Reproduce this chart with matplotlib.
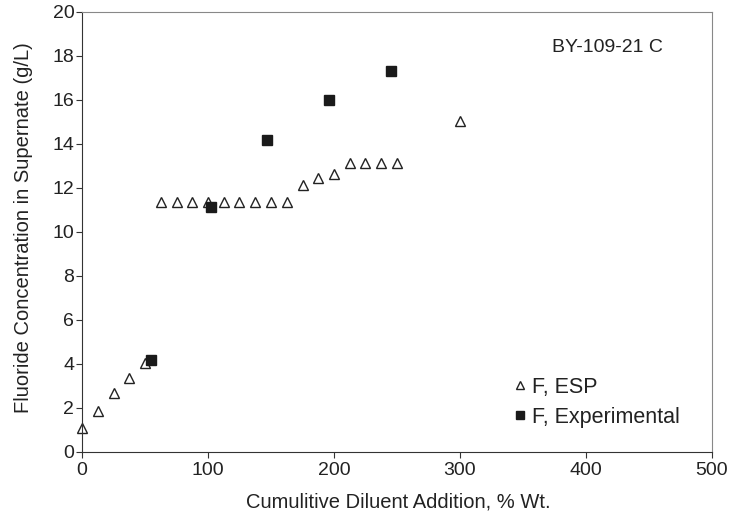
import matplotlib.pyplot as plt

plt.rcParams['font.family'] = ['Liberation Sans', 'DejaVu Sans']

# ESP model results
esp_x = [0, 12.5, 25, 37.5, 50, 62.5, 75, 87.5, 100, 112.5, 125, 137.5, 150, 162.5,
         175, 187.5, 200, 212.5, 225, 237.5, 250, 300]
esp_y = [1.08, 1.86, 2.70, 3.35, 4.03, 11.35, 11.35, 11.35, 11.35, 11.35, 11.35, 11.35,
         11.35, 11.35, 12.14, 12.47, 12.62, 13.12, 13.12, 13.12, 13.12, 15.06]

# experimental results
exp_x = [54.6, 102.7, 146.9, 196.3, 245]
exp_y = [4.2, 11.15, 14.2, 16.0, 17.3]

W, H = 735, 521
fig = plt.figure(figsize=(W / 100, H / 100), dpi=100)
ax = fig.add_axes([82 / W, (H - 452) / H, (712 - 82) / W, (452 - 12) / H])

ax.plot(esp_x, esp_y, linestyle='none', marker='^', markersize=6.8,
        markerfacecolor='white', markeredgecolor='#222222', markeredgewidth=1.0,
        label='F, ESP', clip_on=False)
ax.plot(exp_x, exp_y, linestyle='none', marker='s', markersize=7.3,
        color='#1a1a1a', label='F, Experimental', clip_on=False)

ax.set_xlim(0, 500)
ax.set_ylim(0, 20)
ax.set_xticks(range(0, 501, 100))
ax.set_yticks(range(0, 21, 2))
ax.tick_params(direction='out', length=4, width=0.8, colors='#333333',
               labelcolor='#222222', labelsize=14, pad=1.5)
ax.tick_params(axis='x', pad=3)
ax.spines['left'].set_color('#333333')
ax.spines['bottom'].set_color('#333333')
ax.spines['top'].set_color('#888888')
ax.spines['right'].set_color('#888888')

# axis titles, centred on the plot area
fig.text(398 / W, 1 - 502 / H, 'Cumulitive Diluent Addition, % Wt.', ha='center', va='center',
         fontsize=14.5, color='#222222')
fig.text(24 / W, 1 - 228 / H, 'Fluoride Concentration in Supernate (g/L)', rotation=90,
         ha='center', va='center', fontsize=14.5, color='#222222')

fig.text(607 / W, 1 - 48 / H, 'BY-109-21 C', ha='center', va='center',
         fontsize=14, color='#222222')

leg = fig.legend(loc='center left', bbox_to_anchor=(514 / W, 1 - 402.5 / H), frameon=False,
                 fontsize=15.5, handletextpad=0.24, markerscale=0.8, borderpad=0,
                 handlelength=0.6, labelspacing=0.42, borderaxespad=0)
for t in leg.get_texts():
    t.set_color('#222222')

fig.savefig('out.png', dpi=100)
